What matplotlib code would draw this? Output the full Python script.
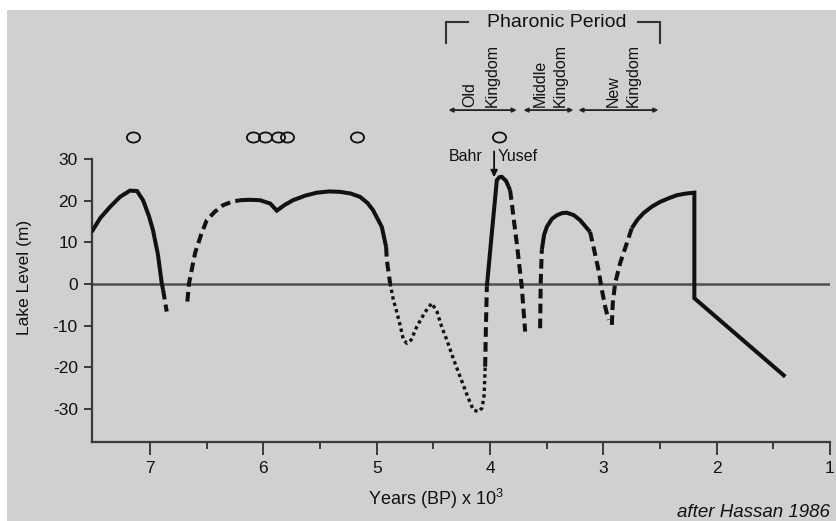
import matplotlib
matplotlib.use('Agg')
import matplotlib.pyplot as plt
from matplotlib.path import Path
from matplotlib.patches import Rectangle

plt.rcParams['font.family'] = 'Liberation Sans'
plt.rcParams['mathtext.fontset'] = 'custom'
plt.rcParams['mathtext.rm'] = 'Liberation Sans'
plt.rcParams['axes.unicode_minus'] = False

# lake level curve pieces (x = years BP x 1000, y = m)
solid_a_x = [7.515, 7.44, 7.353, 7.265, 7.177, 7.115, 7.062, 7.01, 6.974, 6.93, 6.897, 6.885]
solid_a_y = [12.5, 15.8, 18.5, 20.9, 22.4, 22.3, 20.1, 16.3, 12.9, 7.0, 0.2, -1.4]
dash_a_x = [6.885, 6.853]
dash_a_y = [-1.4, -6.6]

dash_b_x = [6.671, 6.656, 6.603, 6.55, 6.50, 6.43, 6.356, 6.28, 6.206]
dash_b_y = [-4.2, 0.2, 7.4, 11.8, 15.3, 17.3, 18.9, 19.7, 20.1]
solid_b_x = [6.206, 6.12, 6.03, 5.94, 5.882, 5.81, 5.738, 5.63, 5.529, 5.42, 5.323,
             5.23, 5.147, 5.08, 5.032, 4.955, 4.917]
solid_b_y = [20.1, 20.2, 20.1, 19.3, 17.6, 19.0, 20.1, 21.2, 21.9, 22.2, 22.1,
             21.7, 20.9, 19.4, 17.7, 13.7, 8.9]
dash_c_x = [4.917, 4.911, 4.882]
dash_c_y = [8.9, 5.8, 0.2]

dot_d_x = [4.882, 4.853, 4.823, 4.794, 4.764, 4.734, 4.696, 4.646, 4.573, 4.514, 4.467,
           4.425, 4.381, 4.32, 4.264, 4.193, 4.147, 4.102, 4.07, 4.052, 4.043]
dot_d_y = [0.2, -3.8, -6.7, -9.8, -13.4, -14.2, -13.4, -10.2, -6.7, -4.6, -6.7,
           -10.4, -13.4, -18.2, -22.2, -27.3, -30.2, -30.6, -29.7, -26.6, -19.8]
dash_e_x = [4.043, 4.036, 4.028]
dash_e_y = [-19.8, -10.0, -0.6]

solid_f_x = [4.028, 3.985, 3.94, 3.918, 3.896, 3.858, 3.823]
solid_f_y = [-0.6, 12.0, 24.9, 25.6, 25.7, 24.7, 22.5]
dash_g_x = [3.823, 3.808, 3.786, 3.764, 3.742, 3.72, 3.69]
dash_g_y = [22.5, 19.4, 14.5, 9.8, 4.6, -0.6, -11.4]

dash_h_x = [3.558, 3.553, 3.543]
dash_h_y = [-10.6, 0.2, 8.2]
solid_i_x = [3.543, 3.523, 3.499, 3.455, 3.41, 3.365, 3.322, 3.26, 3.205, 3.117]
solid_i_y = [8.2, 11.8, 13.7, 15.6, 16.5, 17.0, 17.1, 16.5, 15.3, 12.5]
dash_j_x = [3.117, 3.087, 3.043, 3.013, 2.984, 2.955]
dash_j_y = [12.5, 8.9, 3.4, -1.4, -5.4, -8.6]

dash_k_x = [2.925, 2.917, 2.896, 2.852, 2.793, 2.749]
dash_k_y = [-9.8, -4.6, 0.2, 5.0, 9.8, 13.4]
solid_l_x = [2.749, 2.70, 2.646, 2.57, 2.499, 2.42, 2.351, 2.27, 2.197, 2.197, 1.395]
solid_l_y = [13.4, 15.4, 17.0, 18.6, 19.7, 20.6, 21.3, 21.7, 21.9, -3.4, -22.2]

# dated high stands (open circles)
circle_x = [7.147, 6.088, 5.985, 5.868, 5.793, 5.176, 3.917]
circle_y = [35.2, 35.2, 35.2, 35.2, 35.2, 35.2, 35.2]

# pharaonic periods
period_names = ['Old\nKingdom', 'Middle\nKingdom', 'New\nKingdom']
period_start = [4.367, 3.705, 3.22]
period_end = [3.764, 3.264, 2.514]
period_label_x = [(4.176, 3.984), (3.558, 3.381), (2.911, 2.734)]

solid_pieces = [(solid_a_x, solid_a_y), (solid_b_x, solid_b_y), (solid_f_x, solid_f_y),
                (solid_i_x, solid_i_y), (solid_l_x, solid_l_y)]
dash_pieces = [(dash_a_x, dash_a_y), (dash_b_x, dash_b_y), (dash_c_x, dash_c_y),
               (dash_e_x, dash_e_y), (dash_g_x, dash_g_y), (dash_h_x, dash_h_y),
               (dash_j_x, dash_j_y), (dash_k_x, dash_k_y)]
dot_pieces = [(dot_d_x, dot_d_y)]

ink = '#111111'
axis_col = '#3a3a3a'

fig = plt.figure(figsize=(8.37, 5.21), dpi=100, facecolor='white')
fig.patches.append(Rectangle((7 / 837, 0), 1, 1 - 10 / 521, transform=fig.transFigure,
                             facecolor='#d0d0d0', edgecolor='none', zorder=-5))
ax = fig.add_axes([91.7 / 837, 1 - 441.7 / 521, (830 - 91.7) / 837, (441.7 - 10) / 521])
ax.set_facecolor('none')

ax.axhline(0, color='#505050', lw=1.8, zorder=1)

for xs, ys in solid_pieces:
    ax.plot(xs, ys, color=ink, lw=2.9, solid_joinstyle='miter', solid_capstyle='butt', zorder=3)
for xs, ys in dash_pieces:
    ax.plot(xs, ys, color=ink, lw=2.9, ls=(0, (2.4, 1.3)), dash_capstyle='butt', zorder=3)
for xs, ys in dot_pieces:
    ax.plot(xs, ys, color=ink, lw=2.4, ls=(0, (1.0, 1.0)), dash_capstyle='butt', zorder=3)

circ = Path.unit_circle()
ellipse = Path(circ.vertices * [1.3, 1.0], circ.codes)
ax.plot(circle_x, circle_y, ls='none', marker=ellipse, ms=9.5, mfc='none', mec=ink, mew=1.3)

ax.set_xlim(7.515, 1)
ax.set_ylim(-37.8, 65.7)
ax.set_xticks([7, 6, 5, 4, 3, 2, 1])
ax.set_xticks([6.5, 5.5, 4.5, 3.5, 2.5, 1.5], minor=True)
ax.set_yticks([-30, -20, -10, 0, 10, 20, 30])
ax.spines['top'].set_visible(False)
ax.spines['right'].set_visible(False)
ax.spines['left'].set_bounds(-37.8, 30)
for s in ['left', 'bottom']:
    ax.spines[s].set_color(axis_col)
    ax.spines[s].set_linewidth(1.6)
ax.tick_params(axis='x', which='major', length=9, width=1.4, color=axis_col, pad=5,
               labelsize=12.5, labelcolor=ink)
ax.tick_params(axis='x', which='minor', length=5, width=1.4, color=axis_col)
ax.tick_params(axis='y', length=6, width=1.4, color=axis_col, pad=4, labelsize=12.5, labelcolor=ink)

ax.set_xlabel('Years (BP) x 10$^3$', fontsize=13, color=ink)
ax.xaxis.set_label_coords(0.466, -0.105)
fig.text(25 / 837, 1 - 277.5 / 521, 'Lake Level (m)', rotation=90, ha='center', va='center',
         fontsize=12.5, color=ink)

# pharaonic period bracket
ax.text(3.408, 62.6, 'Pharonic Period', ha='center', va='center', fontsize=14, color=ink)
ax.plot([4.39, 4.39, 4.19], [57.9, 62.9, 62.9], color='#333333', lw=1.5, solid_joinstyle='miter')
ax.plot([2.694, 2.499, 2.499], [62.9, 62.9, 57.9], color='#333333', lw=1.5, solid_joinstyle='miter')

for name, x0, x1, (lx1, lx2) in zip(period_names, period_start, period_end, period_label_x):
    ax.annotate('', xy=(x1, 41.7), xytext=(x0, 41.7),
                arrowprops=dict(arrowstyle='<|-|>', color='#222222', lw=1.3,
                                mutation_scale=6, shrinkA=0, shrinkB=0))
    first, second = name.split('\n')
    ax.text(lx1, 42.4, first, rotation=90, ha='center', va='bottom', fontsize=11.5, color=ink)
    ax.text(lx2, 42.4, second, rotation=90, ha='center', va='bottom', fontsize=11.5, color=ink)

# Bahr Yusef arrow
ax.text(4.07, 30.5, 'Bahr', ha='right', va='center', fontsize=11.5, color=ink)
ax.text(3.937, 30.5, 'Yusef', ha='left', va='center', fontsize=11.5, color=ink)
ax.annotate('', xy=(3.964, 25.6), xytext=(3.964, 31.8),
            arrowprops=dict(arrowstyle='-|>', color=ink, lw=1.3, mutation_scale=10,
                            shrinkA=0, shrinkB=0))

fig.text(677 / 837, 1 - 517 / 521, 'after Hassan 1986', ha='left', va='baseline',
         fontsize=13.5, style='italic', color=ink)

fig.savefig('out.png', dpi=100, facecolor=fig.get_facecolor())
